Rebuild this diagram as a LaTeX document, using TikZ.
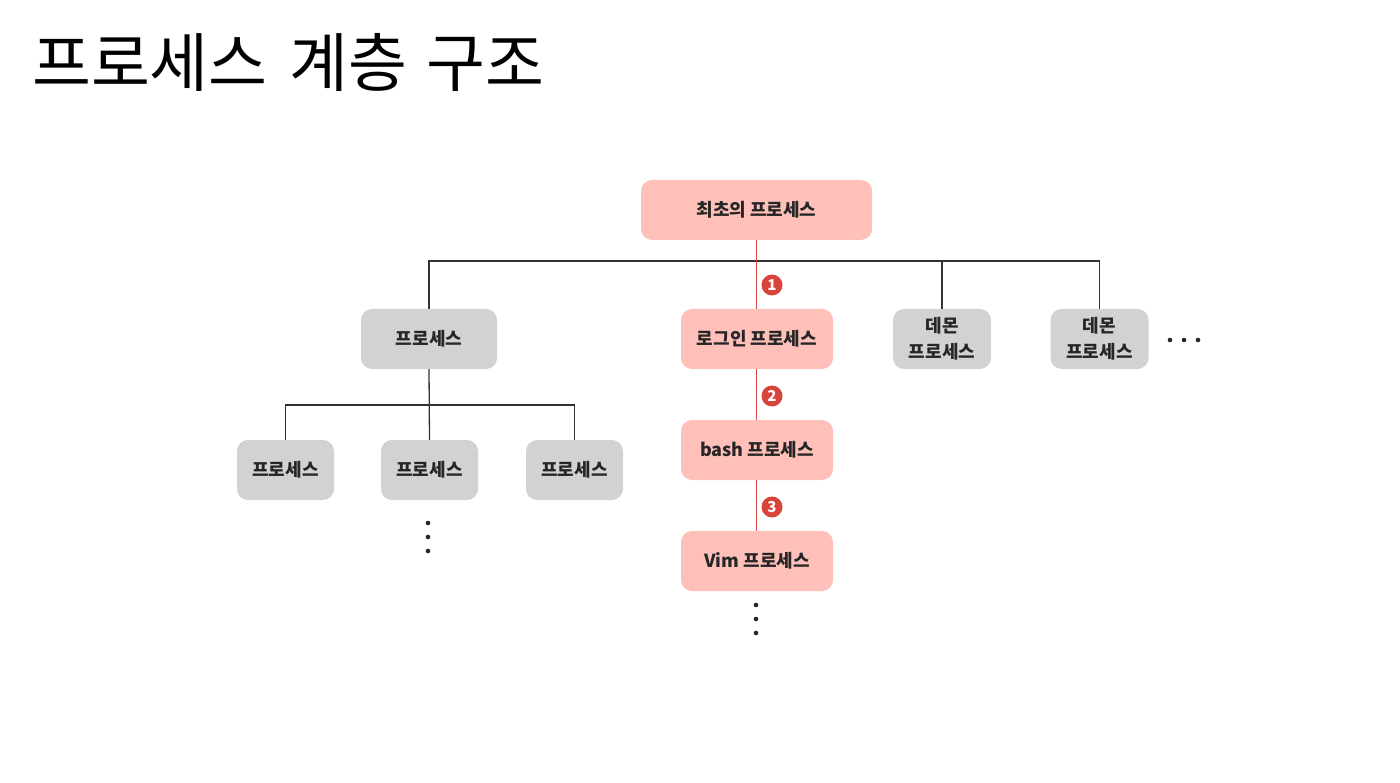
\documentclass[tikz,border=0pt]{standalone}
\usepackage{fontspec}
\newfontfamily\kr{Noto Sans CJK KR}
\definecolor{boxred}{HTML}{FFC0B9}
\definecolor{boxgray}{HTML}{D2D2D2}
\definecolor{linered}{HTML}{D24A45}
\definecolor{badgered}{HTML}{D8433C}
\tikzset{
  box/.style={rounded corners=11pt, minimum height=60pt, inner sep=0pt,
    align=center, text=black!85,
    font=\kr\bfseries\fontsize{18}{26}\selectfont},
  redbox/.style={box, fill=boxred},
  graybox/.style={box, fill=boxgray},
  tree/.style={line width=1.3pt, draw=black!80},
  redline/.style={line width=0.8pt, draw=linered},
  badge/.style={circle, fill=badgered, text=white, inner sep=0pt,
    minimum size=21pt, font=\kr\bfseries\fontsize{15}{15}\selectfont},
}
\begin{document}
\begin{tikzpicture}[x=1pt,y=-1pt]
    \useasboundingbox[fill=white] (0,0) rectangle (1400,783);

    % title
    \node[anchor=west,inner sep=0pt,font=\kr\fontsize{64}{70}\selectfont]
      (title) at (32,63) {프로세스\hspace{22pt}계층\hspace{19pt}구조};

    % first level
    \node[redbox,minimum width=231pt] (init) at (756.5,210) {최초의 프로세스};
    \node[graybox,minimum width=136pt] (proc) at (429,339) {프로세스};
    \node[redbox,minimum width=152pt] (login) at (757,339) {로그인 프로세스};
    \node[graybox,minimum width=98pt] (daemonA) at (942,339) {데몬\\프로세스};
    \node[graybox,minimum width=98pt] (daemonB) at (1099.5,339) {데몬\\프로세스};

    % second level
    \node[graybox,minimum width=97pt] (childA) at (285.5,470) {프로세스};
    \node[graybox,minimum width=97pt] (childB) at (429.5,470) {프로세스};
    \node[graybox,minimum width=97pt] (childC) at (574.5,470) {프로세스};
    \node[redbox,minimum width=152pt] (bash) at (757,450) {bash 프로세스};
    \node[redbox,minimum width=152pt] (vim) at (757,561) {Vim 프로세스};

    % tree lines
    \coordinate (busA) at (756,261);
    \coordinate (busB) at (429,405);
    \draw[tree] (proc.north) -- (proc.north |- busA) -- (daemonB.north |- busA)
      -- (daemonB.north);
    \draw[tree] (daemonA.north) -- (daemonA.north |- busA);
    \draw[tree] (proc.south) -- (childB.north);
    \draw[tree] (childA.north) -- (childA.north |- busB) -- (childC.north |- busB)
      -- (childC.north);

    % login path
    \draw[redline] (init.south -| busA) -- (login.north -| busA);
    \draw[redline] (login.south -| busA) -- (bash.north -| busA);
    \draw[redline] (bash.south -| busA) -- (vim.north -| busA);
    \node[badge] (one) at (772,285) {1};
    \node[badge] (two) at (772,396) {2};
    \node[badge] (three) at (772,507) {3};

    % dots
    \foreach \i in {0,1,2} {
      \fill[black!85] (1170+14*\i,340) circle (2.3pt);
      \fill[black!85] (428,523+14*\i) circle (2.3pt);
      \fill[black!85] (756,605+14*\i) circle (2.3pt);
    }

  \end{tikzpicture}
\end{document}
